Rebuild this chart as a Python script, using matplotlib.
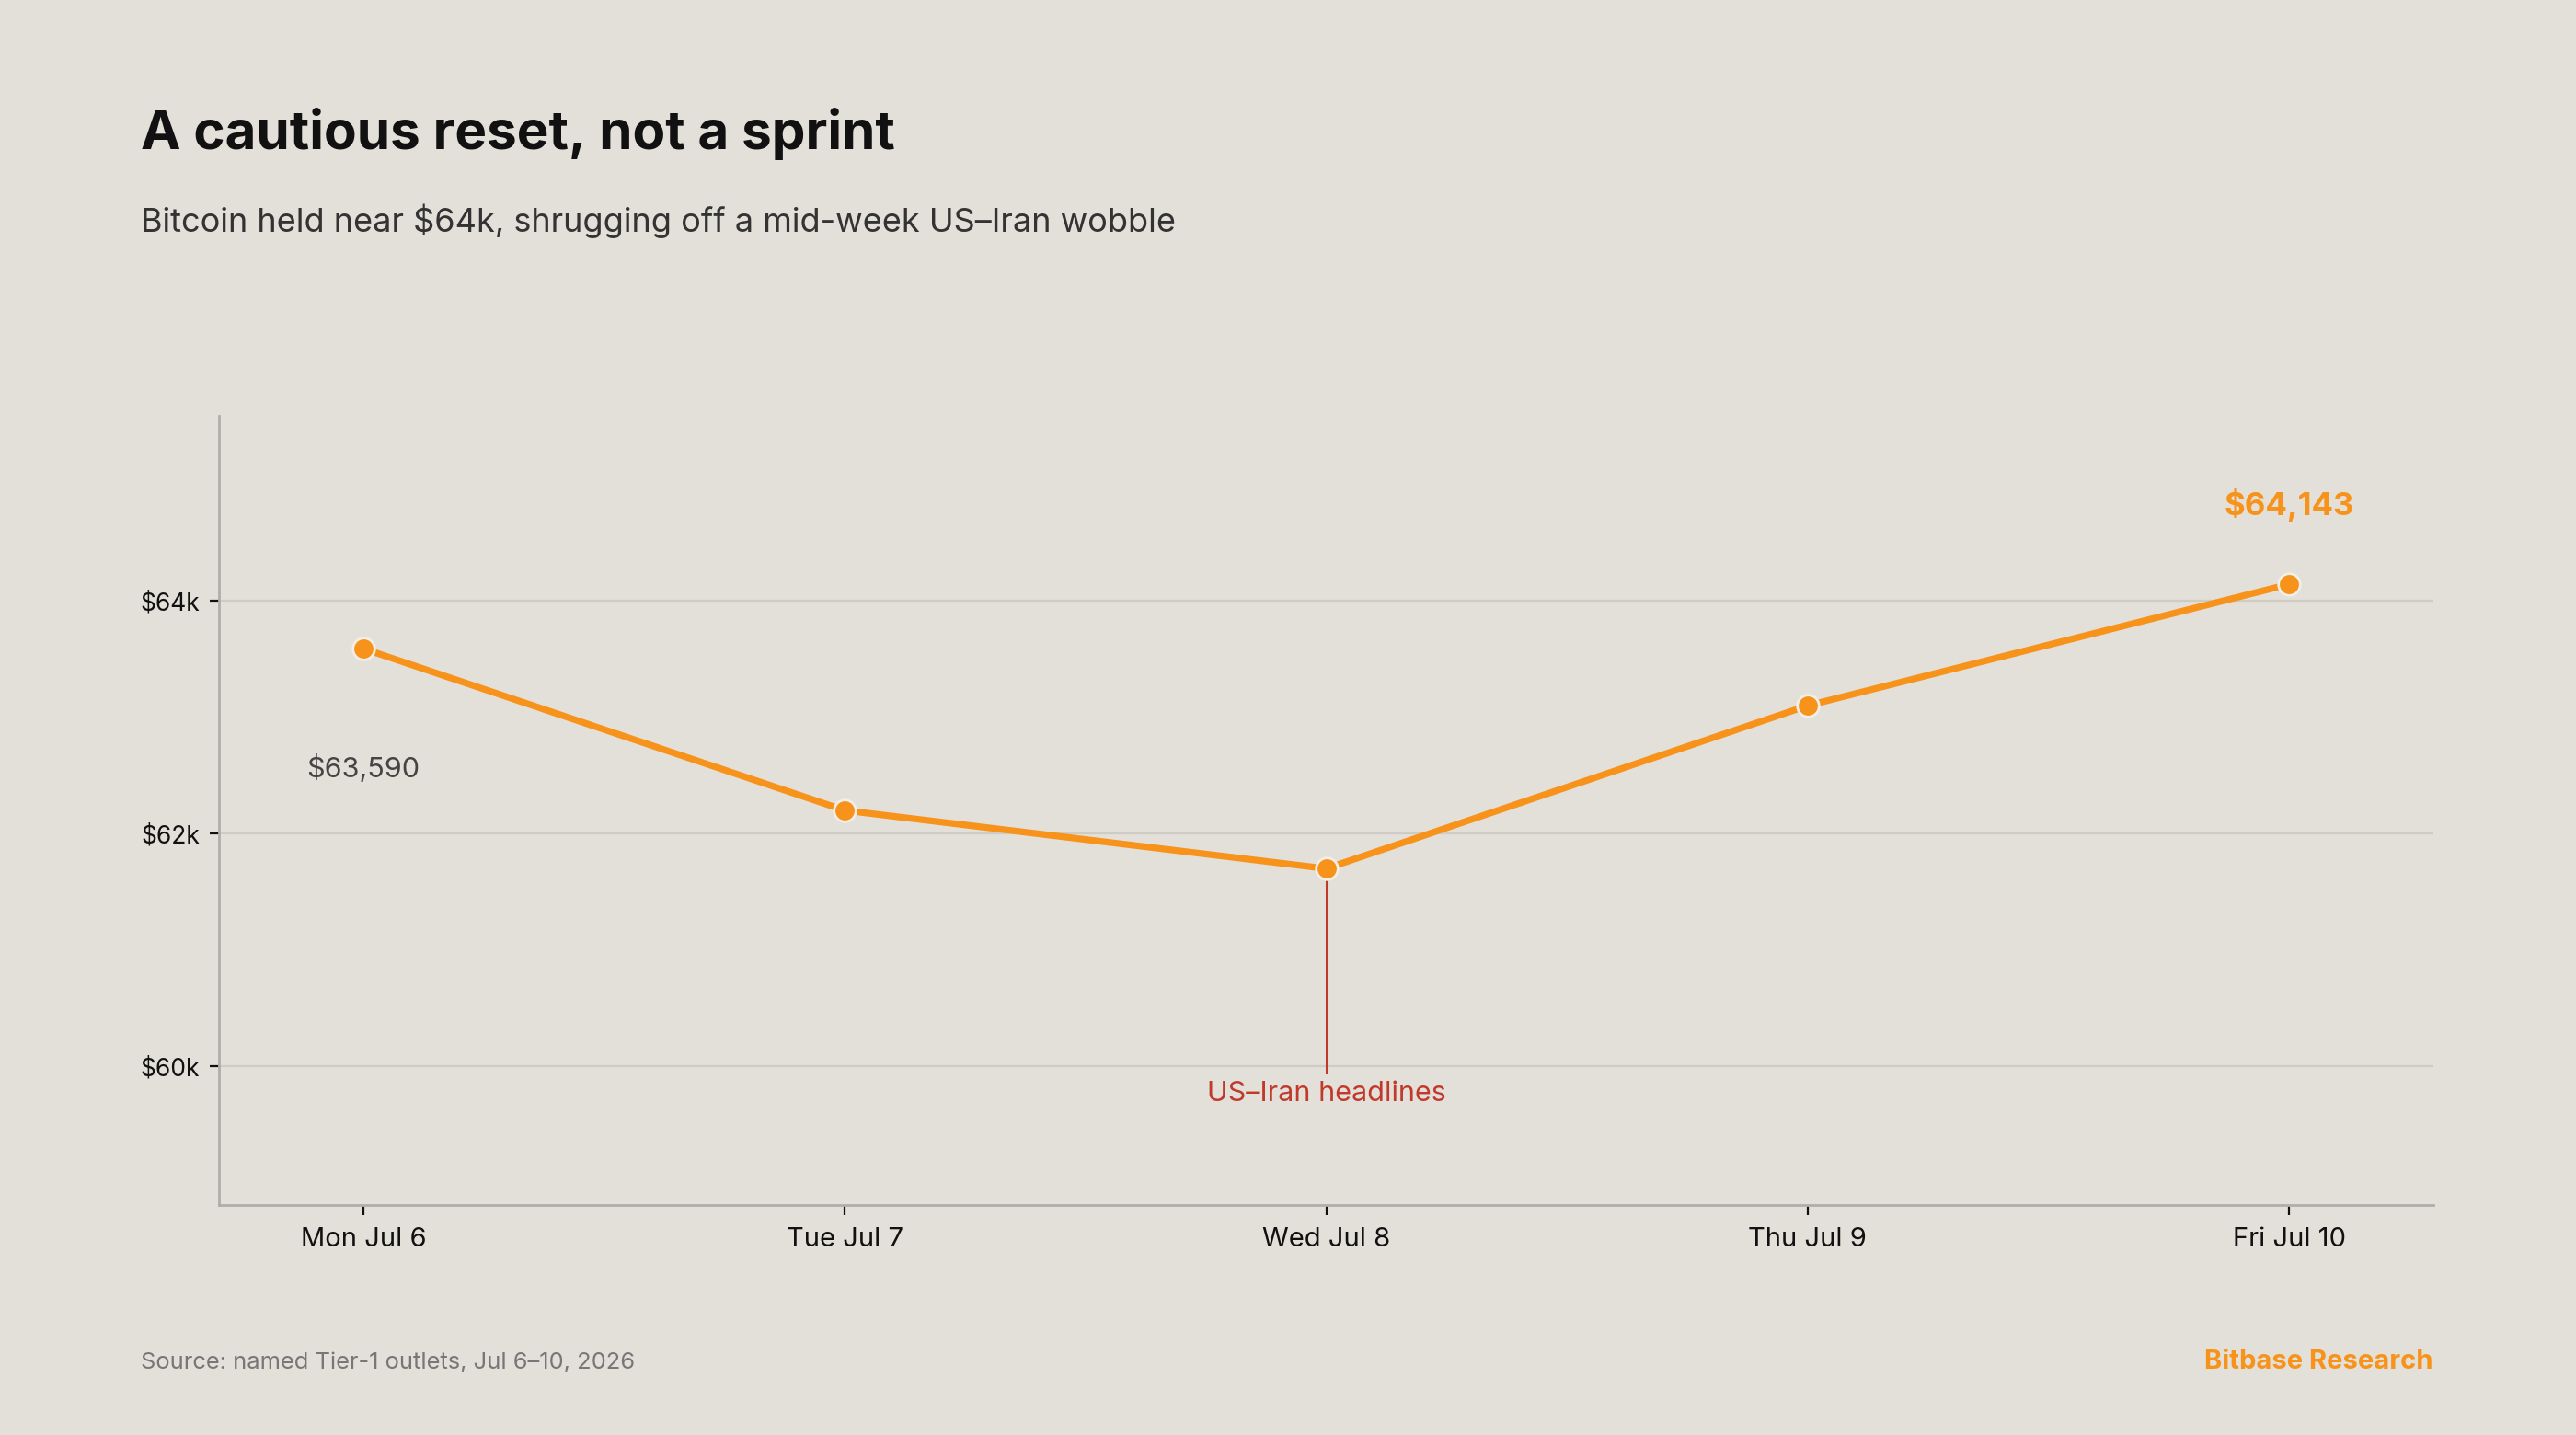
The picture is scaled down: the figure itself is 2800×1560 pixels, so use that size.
import matplotlib
matplotlib.use("Agg")
import matplotlib.pyplot as plt
from matplotlib.ticker import FuncFormatter

days = ["Mon Jul 6", "Tue Jul 7", "Wed Jul 8", "Thu Jul 9", "Fri Jul 10"]
prices = [63590, 62200, 61700, 63100, 64143]
y_ticks = [60000, 62000, 64000]
event_day = 2
event_label = "US\u2013Iran headlines"

BG = "#E3DFD9"
ORANGE = "#F7931A"
RED = "#C0392B"

plt.rcParams['font.family'] = ['Inter', 'DejaVu Sans']

fig = plt.figure(figsize=(14, 7.8), dpi=200)
fig.patch.set_facecolor(BG)
ax = fig.add_axes([238/2800, 1-1310/1560, (2645-238)/2800, (1310-452)/1560])
ax.set_facecolor(BG)

x = list(range(len(days)))
ax.plot(x, prices, color=ORANGE, lw=2.6, zorder=3, solid_capstyle='round')
ax.plot(x, prices, 'o', color=ORANGE, ms=8.5, mec="#F2EEE8", mew=1.0, zorder=4)

ax.set_xlim(-0.3, 4.3)
ax.set_ylim(58810, 65590)
ax.set_xticks(x)
ax.set_xticklabels(days, fontsize=10.5, color="#111111")
ax.set_yticks(y_ticks)
ax.yaxis.set_major_formatter(FuncFormatter(lambda v, p: f"${v/1000:.0f}k"))
ax.tick_params(axis='y', labelsize=9.5, colors="#111111", length=3.5, width=0.8, pad=4)
ax.tick_params(axis='x', length=4, width=0.8, pad=4.5, colors="#111111")
ax.grid(axis='y', color="#CFCBC5", lw=0.8, zorder=0)
ax.set_axisbelow(True)
for s in ['top', 'right']:
    ax.spines[s].set_visible(False)
for s in ['left', 'bottom']:
    ax.spines[s].set_color("#B0AEAA")
    ax.spines[s].set_linewidth(1.0)

# event marker
ax.plot([event_day, event_day], [61600, 59950], color=RED, lw=1.1, zorder=2)
ax.text(event_day, 59880, event_label, color=RED, fontsize=11, ha='center', va='top')

# labels
ax.annotate(f"${prices[0]:,}", (0, prices[0]), xytext=(0, -47), textcoords='offset points',
            ha='center', va='center', fontsize=11, color="#444444")
ax.annotate(f"${prices[-1]:,}", (4, prices[-1]), xytext=(0, 31), textcoords='offset points',
            ha='center', va='center', fontsize=12.5, color=ORANGE, fontweight='bold')

fig.text(153/2800, 1-162/1560, "A cautious reset, not a sprint", fontsize=21, fontweight='bold',
         color="#111111", ha='left', va='baseline')
fig.text(153/2800, 1-252/1560, "Bitcoin held near $64k, shrugging off a mid-week US\u2013Iran wobble",
         fontsize=13, color="#333333", ha='left', va='baseline')
fig.text(153/2800, 1-1481/1560, "Source: named Tier-1 outlets, Jul 6\u201310, 2026", fontsize=9.2,
         color="#777777", ha='left', va='center')
fig.text(2645/2800, 1-1481/1560, "Bitbase Research", fontsize=10.5, fontweight='bold',
         color=ORANGE, ha='right', va='center')

fig.savefig("out.png", dpi=200, facecolor=BG)
